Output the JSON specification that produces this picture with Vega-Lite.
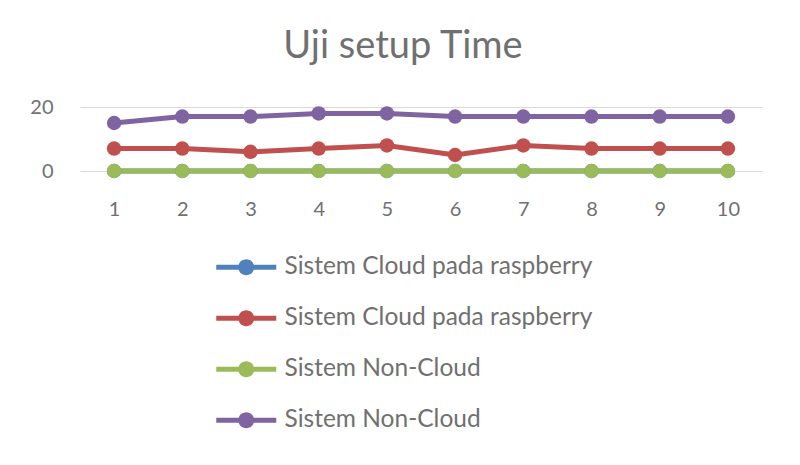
{
  "$schema": "https://vega.github.io/schema/vega-lite/v6.json",
  "width": 682,
  "height": 64,
  "autosize": {"type": "none"},
  "padding": {"left": 80, "top": 107, "right": 38, "bottom": 294},
  "background": "white",
  "title": {
    "text": "Uji setup Time",
    "font": "Lato",
    "fontSize": 38,
    "fontWeight": "normal",
    "color": "#707070",
    "anchor": "middle",
    "dx": -18,
    "offset": 31
  },
  "data": {
    "values": [
      {"x": 1, "s": "A", "v": 0}, {"x": 2, "s": "A", "v": 0}, {"x": 3, "s": "A", "v": 0}, {"x": 4, "s": "A", "v": 0}, {"x": 5, "s": "A", "v": 0},
      {"x": 6, "s": "A", "v": 0}, {"x": 7, "s": "A", "v": 0}, {"x": 8, "s": "A", "v": 0}, {"x": 9, "s": "A", "v": 0}, {"x": 10, "s": "A", "v": 0},
      {"x": 1, "s": "B", "v": 7}, {"x": 2, "s": "B", "v": 7}, {"x": 3, "s": "B", "v": 6}, {"x": 4, "s": "B", "v": 7}, {"x": 5, "s": "B", "v": 8},
      {"x": 6, "s": "B", "v": 5}, {"x": 7, "s": "B", "v": 8}, {"x": 8, "s": "B", "v": 7}, {"x": 9, "s": "B", "v": 7}, {"x": 10, "s": "B", "v": 7},
      {"x": 1, "s": "C", "v": 0}, {"x": 2, "s": "C", "v": 0}, {"x": 3, "s": "C", "v": 0}, {"x": 4, "s": "C", "v": 0}, {"x": 5, "s": "C", "v": 0},
      {"x": 6, "s": "C", "v": 0}, {"x": 7, "s": "C", "v": 0}, {"x": 8, "s": "C", "v": 0}, {"x": 9, "s": "C", "v": 0}, {"x": 10, "s": "C", "v": 0},
      {"x": 1, "s": "D", "v": 15}, {"x": 2, "s": "D", "v": 17}, {"x": 3, "s": "D", "v": 17}, {"x": 4, "s": "D", "v": 18}, {"x": 5, "s": "D", "v": 18},
      {"x": 6, "s": "D", "v": 17}, {"x": 7, "s": "D", "v": 17}, {"x": 8, "s": "D", "v": 17}, {"x": 9, "s": "D", "v": 17}, {"x": 10, "s": "D", "v": 17}
    ]
  },
  "mark": {"type": "line", "strokeWidth": 5, "clip": false, "point": {"size": 210, "filled": true, "opacity": 1}},
  "encoding": {
    "x": {
      "field": "x", "type": "ordinal",
      "scale": {"type": "point", "padding": 0.5},
      "axis": {"title": null, "labelAngle": 0, "domain": false, "ticks": false, "labelPadding": 28, "labelFont": "Lato", "labelFontSize": 20, "labelColor": "#707070", "grid": false}
    },
    "y": {
      "field": "v", "type": "quantitative",
      "scale": {"domain": [0, 20], "nice": false},
      "axis": {"title": null, "values": [0, 20], "domain": false, "ticks": false, "labelPadding": 27, "labelFont": "Lato", "labelFontSize": 20, "labelColor": "#707070", "grid": true, "gridColor": "#d9d9d9", "gridWidth": 1}
    },
    "color": {
      "field": "s", "type": "nominal",
      "scale": {"domain": ["A", "B", "C", "D"], "range": ["#4F81BD", "#C0504D", "#9BBB59", "#8064A2"]},
      "legend": {
        "title": null,
        "orient": "none",
        "legendX": 134,
        "legendY": 148,
        "direction": "vertical",
        "labelExpr": "datum.value == 'A' || datum.value == 'B' ? 'Sistem Cloud pada raspberry' : 'Sistem Non-Cloud'",
        "labelFont": "Lato",
        "labelFontSize": 24.5,
        "labelLimit": 500,
        "labelColor": "#707070",
        "symbolType": "M-3.75,-0.32 L3.75,-0.32 L3.75,0.32 L-3.75,0.32 Z M-1,0 A1,1 0 1,1 1,0 A1,1 0 1,1 -1,0 Z",
        "symbolSize": 256,
        "symbolStrokeWidth": 0,
        "symbolOpacity": 1,
        "rowPadding": 26,
        "labelOffset": 26,
        "symbolOffset": 20,
        "encode": {"symbols": {"update": {"size": {"value": 256}, "shape": {"value": "M-3.75,-0.32 L3.75,-0.32 L3.75,0.32 L-3.75,0.32 Z M-1,0 A1,1 0 1,1 1,0 A1,1 0 1,1 -1,0 Z"}, "strokeWidth": {"value": 0}}}}
      }
    },
    "order": {"field": "s"}
  },
  "config": {"view": {"stroke": null}}
}
